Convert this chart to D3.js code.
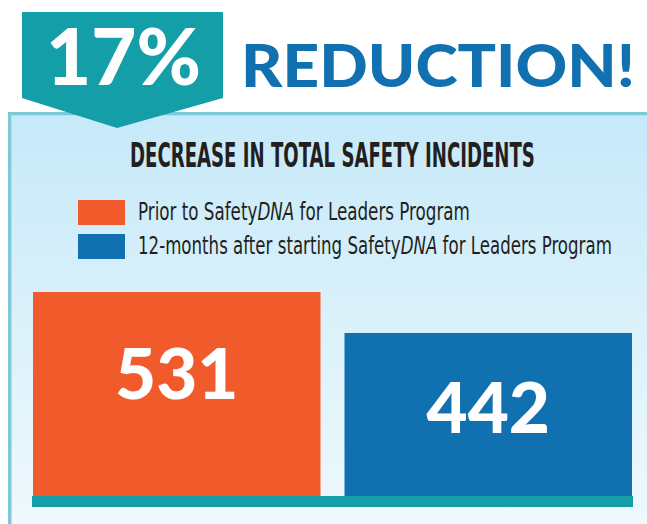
<!DOCTYPE html>
<html>
<head>
<meta charset="utf-8">
<script src="https://cdn.jsdelivr.net/npm/d3@7/dist/d3.min.js"></script>
<style>
  html, body { margin: 0; padding: 0; background: #ffffff; }
  svg { display: block; }
</style>
</head>
<body>
<svg id="chart" width="647" height="524"></svg>
<script>
// ---- data ----
const headlinePct = "17%";
const headlineText = "REDUCTION!";
const chartTitle = "DECREASE IN TOTAL SAFETY INCIDENTS";
const categories = ["Prior", "After"];
const values = [531, 442];
const legendLabels = [
  ["Prior to Safety", "DNA", " for Leaders Program"],
  ["12-months after starting Safety", "DNA", " for Leaders Program"]
];
const colors = ["#f15a2b", "#1070b0"];

// ---- layout ----
const W = 647, H = 524;
const svg = d3.select("#chart");
const defs = svg.append("defs");
const grad = defs.append("linearGradient").attr("id", "bg").attr("x1", 0).attr("y1", 0).attr("x2", 0).attr("y2", 1);
grad.append("stop").attr("offset", "0%").attr("stop-color", "#c6e9f9");
grad.append("stop").attr("offset", "50%").attr("stop-color", "#e0f3fb");
grad.append("stop").attr("offset", "100%").attr("stop-color", "#fafdff");

function fit(sel, w) {
  const node = sel.node();
  const cur = node.getComputedTextLength();
  const x = +sel.attr("x");
  const s = w / cur;
  sel.attr("transform", `translate(${x},0) scale(${s},1) translate(${-x},0)`);
}

// panel
svg.append("rect").attr("x", 8).attr("y", 112).attr("width", W).attr("height", H)
  .attr("fill", "url(#bg)");
svg.append("path").attr("d", `M9.5,${H + 5} V113.5 H${W + 5}`)
  .attr("fill", "none").attr("stroke", "#7fc9d7").attr("stroke-width", 3);
svg.append("path").attr("d", `M11.5,${H + 5} V115.5 H${W + 5}`)
  .attr("fill", "none").attr("stroke", "#b3e1ec").attr("stroke-width", 1);

// badge
svg.append("path")
  .attr("d", "M22,12 H223 V98 L117,128 L22,98 Z")
  .attr("fill", "#149fa8");
const pct = svg.append("text").attr("x", 46).attr("y", 85)
  .attr("font-family", "Lato, 'Open Sans', sans-serif").attr("font-weight", 900)
  .attr("font-size", 78).attr("fill", "#ffffff").text(headlinePct);
fit(pct, 155);

const red = svg.append("text").attr("x", 241).attr("y", 87)
  .attr("font-family", "Lato, 'Open Sans', sans-serif").attr("font-weight", 900)
  .attr("font-size", 59).attr("fill", "#1070b0").text(headlineText);
fit(red, 394);

// title
const title = svg.append("text").attr("x", 130).attr("y", 167)
  .attr("font-family", "'Liberation Sans Narrow', 'DejaVu Sans Condensed', sans-serif")
  .attr("font-weight", 700).attr("font-size", 34).attr("fill", "#231f20").text(chartTitle);
fit(title, 405);

// legend
const legendWidths = [332, 474];
legendLabels.forEach((parts, i) => {
  const y0 = 200 + i * 34;
  svg.append("rect").attr("x", 78).attr("y", y0).attr("width", 47).attr("height", 25)
    .attr("fill", colors[i]);
  const t = svg.append("text").attr("x", 138).attr("y", y0 + 20)
    .attr("font-family", "'Liberation Sans Narrow', 'DejaVu Sans Condensed', sans-serif")
    .attr("font-size", 25).attr("fill", "#231f20");
  t.append("tspan").text(parts[0]);
  t.append("tspan").attr("font-style", "italic").text(parts[1]);
  t.append("tspan").text(parts[2]);
  fit(t, legendWidths[i]);
});

// bars
const x = d3.scaleBand().domain(categories).range([33, 632]).paddingInner(24 / 311.5).paddingOuter(0);
const y = d3.scaleLinear().domain([88, 531]).range([496, 292]);

svg.selectAll("rect.bar").data(values).enter().append("rect")
  .attr("class", "bar")
  .attr("x", (d, i) => x(categories[i]))
  .attr("y", d => y(d))
  .attr("width", x.bandwidth())
  .attr("height", d => y.range()[0] - y(d))
  .attr("fill", (d, i) => colors[i]);

svg.selectAll("text.val").data(values).enter().append("text")
  .attr("class", "val")
  .attr("x", (d, i) => x(categories[i]) + x.bandwidth() / 2)
  .attr("y", d => 157 + 0.829 * y(d))
  .attr("text-anchor", "middle")
  .attr("font-family", "Lato, 'Open Sans', sans-serif").attr("font-weight", 900)
  .attr("font-size", 71).attr("fill", "#ffffff")
  .text(d => d3.format("d")(d));

// baseline
svg.append("rect").attr("x", 32).attr("y", 496).attr("width", 601).attr("height", 11)
  .attr("fill", "#149fa8");
</script>
</body>
</html>
